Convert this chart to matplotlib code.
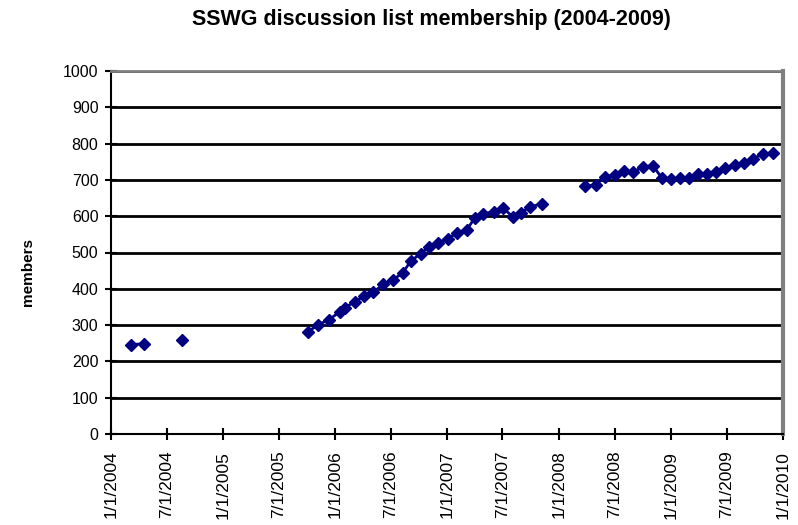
import matplotlib
matplotlib.use("Agg")
import matplotlib.pyplot as plt
import numpy as np
import datetime as dt

plt.rcParams['font.family'] = ['Liberation Sans', 'DejaVu Sans']

# --- data ---
dates_2004 = ["2004-03-06", "2004-04-18"]
members_2004 = [246, 249]

dates_2004b = ["2004-08-19"]
members_2004b = [258]

dates_2005 = ["2005-10-05", "2005-11-07", "2005-12-12", "2006-01-17", "2006-02-02",
              "2006-03-07", "2006-04-05", "2006-05-05", "2006-06-06", "2006-07-09",
              "2006-08-10", "2006-09-05", "2006-10-08", "2006-11-03", "2006-12-02",
              "2007-01-04", "2007-02-02", "2007-03-07", "2007-04-02", "2007-04-28",
              "2007-06-03", "2007-07-02", "2007-08-04", "2007-08-30", "2007-09-28",
              "2007-11-07"]
members_2005 = [282, 301, 315, 337, 348,
                365, 379, 390, 412, 425,
                444, 477, 497, 516, 527,
                538, 554, 563, 596, 607,
                612, 623, 598, 609, 626,
                634]

dates_2008 = ["2008-03-26", "2008-05-01", "2008-05-30", "2008-07-02", "2008-07-31",
              "2008-08-30", "2008-10-01", "2008-11-03", "2008-12-02", "2009-01-01",
              "2009-01-30", "2009-02-28", "2009-03-30", "2009-04-28", "2009-05-27",
              "2009-06-26", "2009-07-28", "2009-08-27", "2009-09-25", "2009-10-28",
              "2009-11-29"]
members_2008 = [682, 687, 708, 714, 724,
                721, 736, 739, 705, 703,
                705, 705, 717, 715, 721,
                733, 742, 747, 758, 772,
                774]

segments = [(dates_2004, members_2004), (dates_2004b, members_2004b),
            (dates_2005, members_2005), (dates_2008, members_2008)]

tick_dates = ["2004-01-01", "2004-07-01", "2005-01-01", "2005-07-01", "2006-01-01",
              "2006-07-01", "2007-01-01", "2007-07-01", "2008-01-01", "2008-07-01",
              "2009-01-01", "2009-07-01", "2010-01-01"]
tick_labels = ["1/1/2004", "7/1/2004", "1/1/2005", "7/1/2005", "1/1/2006",
               "7/1/2006", "1/1/2007", "7/1/2007", "1/1/2008", "7/1/2008",
               "1/1/2009", "7/1/2009", "1/1/2010"]

title = "SSWG discussion list membership (2004-2009)"
ylabel = "members"

def to_dt(lst):
    return [dt.datetime.strptime(s, "%Y-%m-%d") for s in lst]

fig = plt.figure(figsize=(7.98, 5.25), dpi=100)
ax = fig.add_axes([111/798, 1-434/525, (783-111)/798, (434-71)/525])

navy = "#000080"
for d, v in segments:
    ax.plot(to_dt(d), v, color=navy, lw=2.0, marker="D", markersize=6.5,
            markeredgecolor=navy, markerfacecolor=navy, zorder=3)

ax.set_xlim(dt.datetime(2004, 1, 1), dt.datetime(2010, 1, 1))
ax.set_ylim(0, 1000)
ax.set_yticks(np.arange(0, 1001, 100))
ax.set_xticks(to_dt(tick_dates))
ax.set_xticklabels(tick_labels, rotation=90)

ax.yaxis.grid(True, color="black", lw=2)
ax.set_axisbelow(True)

for s in ["left", "bottom"]:
    ax.spines[s].set_color("black")
    ax.spines[s].set_linewidth(1.5)
ax.spines["right"].set_color("#808080")
ax.spines["right"].set_linewidth(3)
ax.spines["top"].set_color("#808080")
ax.spines["top"].set_linewidth(2)

ax.tick_params(axis="both", direction="inout", length=8, width=1.5, colors="black")
ax.tick_params(axis="y", pad=5, labelsize=11.5)
ax.tick_params(axis="x", pad=8, labelsize=12.5)

fig.text(28/798, 1-272/525, ylabel, rotation=90, ha="center", va="center",
         fontsize=11, fontweight="bold")
fig.text(431/798, 1-20/525, title, ha="center", va="center", fontsize=15.5,
         fontweight="bold")

fig.savefig("out.png", dpi=100)
